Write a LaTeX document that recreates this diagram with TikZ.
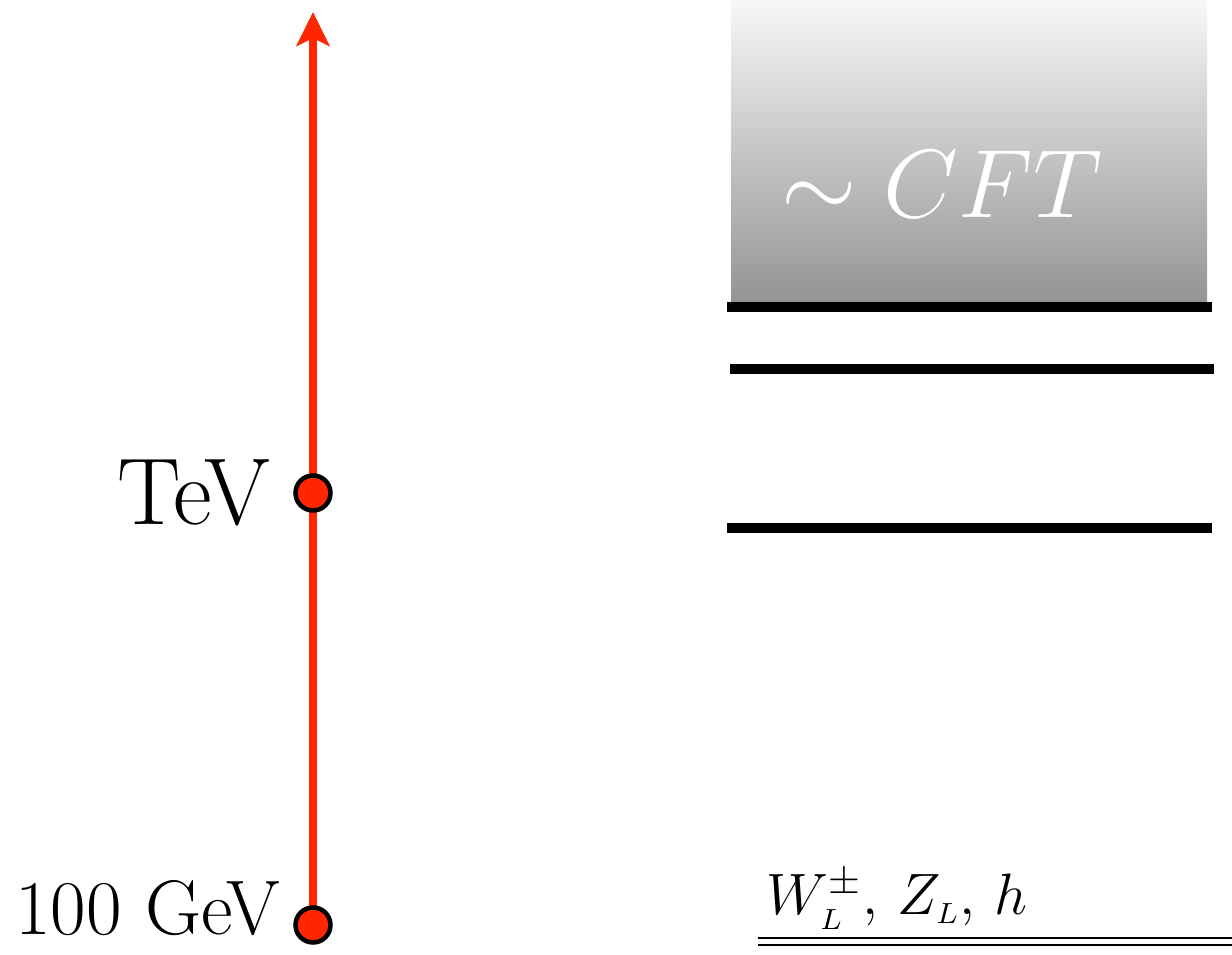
\RequirePackage{fix-cm}
\documentclass[tikz,border=0pt]{standalone}
\usetikzlibrary{arrows.meta,positioning,backgrounds}
\definecolor{scalered}{RGB}{255,38,0}

\begin{document}
\begin{tikzpicture}[x=0.01cm, y=-0.01cm,
    dot/.style={circle, draw=black, line width=0.045cm, fill=scalered, minimum size=0.35cm, inner sep=0pt},
    scaleline/.style={draw=scalered, line width=0.07cm, -{Stealth[length=0.34cm, width=0.33cm, inset=0.08cm]}},
    level/.style={draw=black, line width=0.1cm}]
  \useasboundingbox (0,0) rectangle (1232,955);

  % Energy scale
  \node[dot] (gev) at (313,925) {};
  \node[dot] (tev) at (313,493) {};
  \coordinate (top) at (313,12);
  \node[left=0.22cm of tev, inner sep=0pt, font=\fontsize{27}{30}\selectfont] (tevlabel) {TeV};
  \node[left=0.12cm of gev, yshift=0.17cm, inner sep=0pt, font=\fontsize{22}{25}\selectfont] (gevlabel) {100 GeV};
  \begin{scope}[on background layer]
    \draw[scaleline] (gev.center) -- (top);
  \end{scope}

  % Continuum
  \shade[top color=black!3, bottom color=black!42] (731,0) rectangle (1207,302);
  \node[text=white, font=\fontsize{27.6}{31}\selectfont] (cft) at (942,184) {$\sim CFT$};

  % Resonances
  \draw[level] (727,307) -- (1212,307);
  \draw[level] (730,369) -- (1214,369);
  \draw[level] (727,528) -- (1212,528);

  % Light states
  \node[anchor=base west, inner sep=0pt, font=\fontsize{16.6}{20}\selectfont] (light) at (766,915)
    {$W^{\pm}_{\scriptscriptstyle L},\, Z_{\scriptscriptstyle L},\, h$};
  \draw[double, line width=0.025cm, double distance=0.045cm] (758,941.5) -- (1232,941.5);
\end{tikzpicture}
\end{document}
